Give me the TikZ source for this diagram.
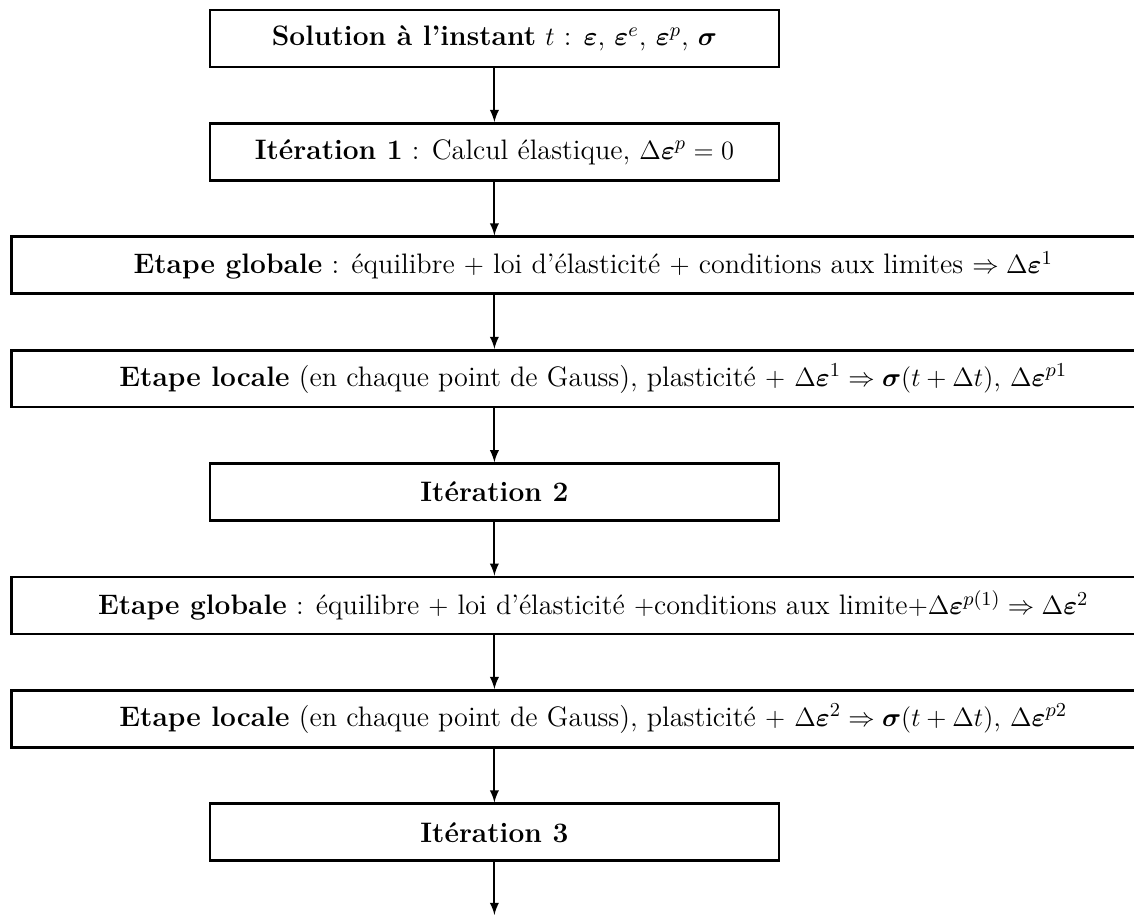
\documentclass[tikz,border=0pt]{standalone}
\usepackage{amsmath}
\usetikzlibrary{arrows}

\begin{document}
\begin{tikzpicture}[->,>=latex,line width=0.9pt,node distance=1.812cm,
                    font=\fontsize{12.8}{15}\selectfont,
                    etape/.style={draw,line width=1.2pt,minimum height=0.91cm},
                    boite/.style={etape,minimum width=9.09cm},
                    bande/.style={etape,minimum width=18.6cm}]
                \useasboundingbox (0,0) rectangle (18.12,-14.62);
                \node[boite] (sol) at (7.90,-0.615) {\textbf{Solution \`a l'instant} $t$ : $\boldsymbol{\varepsilon}$, $\boldsymbol{\varepsilon}^e$, $\boldsymbol{\varepsilon}^p$, $\boldsymbol{\sigma}$};
                \node[boite] (it1) [below of = sol] {\textbf{It\'eration 1} : Calcul \'elastique, $\Delta\boldsymbol{\varepsilon}^p = 0$};
                \node[bande] (glob1) [below of = it1, xshift=1.58cm] {\textbf{Etape globale} : \'equilibre $+$ loi d'\'elasticit\'e $+$ conditions aux limites $\Rightarrow \Delta\boldsymbol{\varepsilon}^1$};
                \node[bande] (loc1) [below of = glob1] {\textbf{Etape locale} (en chaque point de Gauss), plasticit\'e $+$ $\Delta\boldsymbol{\varepsilon}^1 \Rightarrow \boldsymbol{\sigma}(t+\Delta t)$, $\Delta\boldsymbol{\varepsilon}^{p1}$};
                \node[boite] (it2) [below of = loc1, xshift=-1.58cm] {\textbf{It\'eration 2}};
                \node[bande] (glob2) [below of = it2, xshift=1.58cm] {\textbf{Etape globale} : \'equilibre $+$ loi d'\'elasticit\'e $+$conditions aux limite$+\Delta\boldsymbol{\varepsilon}^{p(1)} \Rightarrow \Delta\boldsymbol{\varepsilon}^2$};
                \node[bande] (loc2) [below of = glob2] {\textbf{Etape locale} (en chaque point de Gauss), plasticit\'e $+$ $\Delta\boldsymbol{\varepsilon}^2 \Rightarrow \boldsymbol{\sigma}(t+\Delta t)$, $\Delta\boldsymbol{\varepsilon}^{p2}$};
                \node[boite] (it3) [below of = loc2, xshift=-1.58cm] {\textbf{It\'eration 3}};
                \coordinate (fin) at (7.90,-14.62);

                \path
                (sol) edge (it1)
                (it1) edge (it1 |- glob1.north)
                (glob1.south -| it1) edge (loc1.north -| it1)
                (loc1.south -| it1) edge (it2)
                (it2) edge (it2 |- glob2.north)
                (glob2.south -| it2) edge (loc2.north -| it2)
                (loc2.south -| it2) edge (it3)
                (it3) edge (fin)
                ;
            \end{tikzpicture}
\end{document}
